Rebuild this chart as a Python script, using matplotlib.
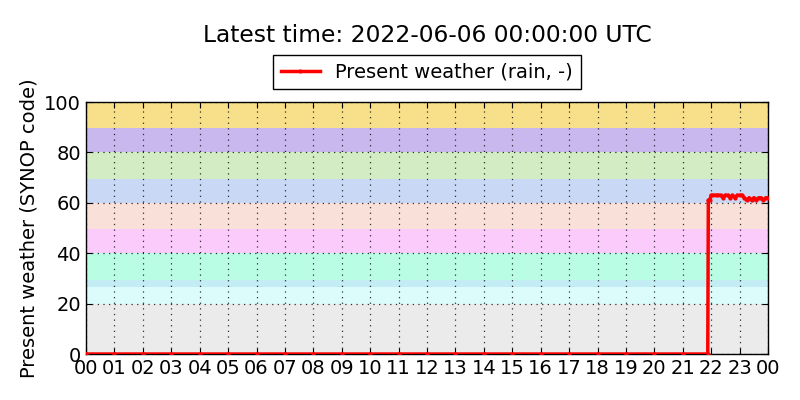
import numpy as np
import matplotlib
matplotlib.use('Agg')
import matplotlib.pyplot as plt

# weather code bands (lower, upper, colour)
band_low = [0, 20, 26.7, 29.4, 40, 49.6, 60, 69.4, 80, 89.7]
band_high = [20, 26.7, 29.4, 40, 49.6, 60, 69.4, 80, 89.7, 100]
band_colors = ['#ebebeb', '#dcfcfc', '#c4ecf4', '#b9fde4', '#fbcbfb',
               '#f9e0d8', '#c9d8f4', '#d3ecc3', '#c9b8ee', '#f8df8a']

# hours since 00 UTC and SYNOP code
hours = [0, 1, 2, 3, 4, 5, 6, 7, 8, 9, 10, 11, 12, 13, 14, 15, 16, 17, 18,
         19, 20, 21, 21.88,
         21.9, 21.95, 22.0, 22.08, 22.17, 22.25, 22.33, 22.42, 22.5, 22.58,
         22.67, 22.75, 22.83, 22.92, 23.0, 23.08, 23.17, 23.25, 23.33, 23.42,
         23.5, 23.58, 23.67, 23.75, 23.83, 23.92, 24.0]
ww = [0, 0, 0, 0, 0, 0, 0, 0, 0, 0, 0, 0, 0, 0, 0, 0, 0, 0, 0,
      0, 0, 0, 0,
      61, 61, 63, 63, 63, 63, 63, 62, 63, 63,
      62, 63, 62, 63, 63, 63, 62, 61, 62, 61,
      62, 61, 62, 62, 61, 62, 62]

xticks = list(range(25))
xlabels = ['%02d' % (h % 24) for h in xticks]

fig = plt.figure(figsize=(8, 4), dpi=100)
ax = fig.add_axes([0.1075, 0.115, 0.8525, 0.63])

for lo, hi, c in zip(band_low, band_high, band_colors):
    ax.axhspan(lo, hi, color=c, lw=0, zorder=0)

ax.plot(hours, ww, color='red', lw=2.5, marker='.', ms=4,
        label='Present weather (rain, -)', zorder=3)

ax.set_xlim(0, 24)
ax.set_ylim(0, 100)
ax.set_xticks(xticks)
ax.set_xticklabels(xlabels)
ax.set_yticks([0, 20, 40, 60, 80, 100])
ax.tick_params(direction='in', top=True, right=True, labelsize=14, length=4)
ax.grid(True, color='k', linestyle=(0, (1, 3.5)), linewidth=0.9, alpha=0.8)
for s in ax.spines.values():
    s.set_linewidth(1.0)
ax.set_ylabel('Present weather (SYNOP code)', fontsize=14)

leg = ax.legend(loc='lower center', bbox_to_anchor=(0.5, 1.0), fontsize=14,
                fancybox=False, framealpha=1, edgecolor='k', borderaxespad=0.65)
leg.get_frame().set_linewidth(1.0)

fig.text(0.534, 0.9125, 'Latest time: 2022-06-06 00:00:00 UTC', fontsize=16.8,
         ha='center', va='center')

fig.savefig('out.png', dpi=100, facecolor='white')
